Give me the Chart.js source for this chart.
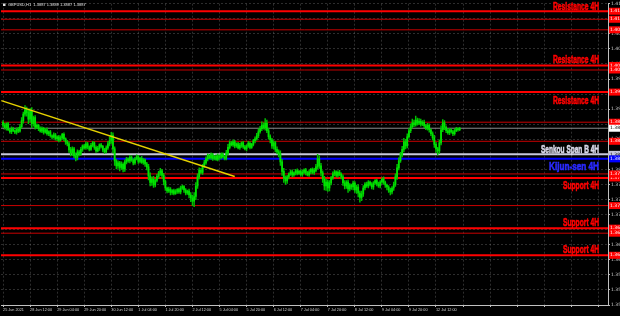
<!DOCTYPE html>
<html>
<head>
<meta charset="utf-8">
<script src="https://cdn.jsdelivr.net/npm/chart.js@4.4.1/dist/chart.umd.min.js"></script>
<style>
html, body { margin: 0; padding: 0; background: #000; }
#wrap { width: 620px; height: 316px; position: relative; }
</style>
</head>
<body>
<div id="wrap"><canvas id="chart"></canvas></div>
<script>
/* GBPUSD H1 -- candles with 4H levels */

const firstOpen = 1.3899;
const closes = [
	1.3893, 1.3888, 1.3896,
	1.3884, 1.3880, 1.3886, 1.3882, 1.3879, 1.3885, 1.3881, 1.3890,
	1.3902, 1.3915, 1.3924, 1.3918,
	1.3905, 1.3922, 1.3896, 1.3908, 1.3889, 1.3893,
	1.3886, 1.3881, 1.3887, 1.3879, 1.3884, 1.3876, 1.3880, 1.3872,
	1.3869, 1.3874, 1.3866, 1.3870, 1.3863, 1.3868, 1.3875, 1.3866, 1.3860, 1.3856,
	1.3844, 1.3838, 1.3846, 1.3832, 1.3829, 1.3840, 1.3836,
	1.3845, 1.3852, 1.3848, 1.3856, 1.3850, 1.3845, 1.3853, 1.3858, 1.3849, 1.3842,
	1.3847, 1.3854, 1.3851, 1.3844, 1.3840, 1.3848, 1.3856, 1.3862,
	1.3873,
	1.3846, 1.3822, 1.3812,
	1.3818, 1.3809, 1.3815, 1.3806, 1.3820, 1.3826,
	1.3822, 1.3829, 1.3824, 1.3818, 1.3826, 1.3830, 1.3821, 1.3827, 1.3819, 1.3824, 1.3816, 1.3810,
	1.3792, 1.3779, 1.3786, 1.3774, 1.3783, 1.3791,
	1.3798, 1.3802, 1.3793, 1.3781,
	1.3768, 1.3762, 1.3766, 1.3759, 1.3763, 1.3757, 1.3761, 1.3765, 1.3760, 1.3768,
	1.3771, 1.3764, 1.3758, 1.3762, 1.3754, 1.3748, 1.3742,
	1.3751,
	1.3772, 1.3790, 1.3803, 1.3799, 1.3812, 1.3818, 1.3826, 1.3833,
	1.3828, 1.3834, 1.3827, 1.3831, 1.3825, 1.3832, 1.3829, 1.3835, 1.3830, 1.3827, 1.3838,
	1.3849, 1.3858, 1.3854, 1.3860,
	1.3852, 1.3856, 1.3848, 1.3853, 1.3858, 1.3850, 1.3846, 1.3852, 1.3857, 1.3849,
	1.3855, 1.3862, 1.3866, 1.3872,
	1.3880, 1.3886, 1.3893, 1.3888, 1.3897, 1.3882,
	1.3870, 1.3864, 1.3852, 1.3858, 1.3845, 1.3840, 1.3836, 1.3820,
	1.3801, 1.3788, 1.3782, 1.3790,
	1.3796, 1.3800, 1.3794, 1.3798, 1.3802, 1.3797, 1.3801, 1.3795, 1.3799, 1.3804,
	1.3798, 1.3794, 1.3800, 1.3805, 1.3799, 1.3803, 1.3810, 1.3826, 1.3812, 1.3798,
	1.3786, 1.3772, 1.3780, 1.3768, 1.3778, 1.3788,
	1.3796, 1.3800, 1.3793, 1.3799, 1.3795, 1.3790,
	1.3778, 1.3772, 1.3780, 1.3766, 1.3774, 1.3770, 1.3778, 1.3764, 1.3770, 1.3758,
	1.3749, 1.3756, 1.3768,
	1.3776, 1.3772, 1.3780, 1.3775, 1.3770, 1.3778, 1.3783, 1.3776, 1.3772, 1.3780,
	1.3786, 1.3779, 1.3774, 1.3770,
	1.3764, 1.3760, 1.3768, 1.3775,
	1.3790, 1.3808, 1.3822, 1.3834,
	1.3845, 1.3860, 1.3852, 1.3870, 1.3882, 1.3890,
	1.3898, 1.3894, 1.3903, 1.3897, 1.3901, 1.3895, 1.3899,
	1.3892, 1.3887, 1.3893, 1.3884, 1.3876, 1.3868,
	1.3855, 1.3846, 1.3842, 1.3858,
	1.3884, 1.3898,
	1.3889, 1.3882, 1.3878, 1.3884, 1.3880, 1.3876, 1.3882, 1.3886, 1.3884, 1.3887,
];
// wick lengths in pips above / below the body
const upWick = [
	3,4,2,3,2,4,3,2,3,4,5,6,4,8,5,7,4,6,3,4,
	3,2,4,3,2,3,4,2,3,2,4,3,2,3,4,2,3,2,3,4,
	5,4,3,6,4,3,4,2,3,4,3,2,4,3,2,3,4,2,3,2,
	3,4,5,8,6,5,4,3,4,3,5,3,4,3,2,4,3,2,3,4,
	3,2,4,3,2,3,5,6,4,5,3,4,3,5,3,4,3,2,4,3,
	2,3,4,2,3,4,3,2,3,2,4,5,6,8,7,6,5,4,3,5,
	4,3,2,4,3,2,3,4,2,3,3,2,5,6,4,3,4,3,2,3,
	4,2,3,3,2,4,3,2,3,4,5,6,5,7,5,9,6,5,4,3,
	4,3,5,4,6,5,6,4,3,2,3,4,2,3,4,2,3,4,2,3,
	3,4,2,3,4,5,9,6,5,4,5,6,4,5,3,4,3,2,3,4,
	3,4,5,3,4,3,2,4,3,4,5,4,6,5,3,4,3,2,4,3,
	2,3,4,3,2,4,3,2,3,4,3,5,6,7,6,5,6,7,5,6,
	5,6,7,5,8,4,5,4,3,4,3,4,3,2,4,5,4,3,6,8,
	6,4,3,4,3,2,3,4,3,2,2,
];
const downWick = [
	4,3,5,2,3,4,2,3,4,3,2,3,5,4,7,9,6,8,5,4,
	3,4,2,3,4,2,3,4,3,4,2,3,4,3,2,3,4,5,4,5,
	6,5,4,7,5,4,3,4,2,3,4,3,2,3,4,3,2,4,3,4,
	3,2,3,4,5,8,9,6,5,7,4,6,5,4,3,4,3,4,3,2,
	4,3,2,4,5,6,8,7,6,5,4,3,4,5,6,7,5,4,3,5,
	4,3,2,4,3,4,3,5,4,3,6,7,9,11,6,5,4,3,4,3,
	3,4,2,3,4,3,2,3,4,3,2,3,3,4,3,2,3,4,3,2,
	3,4,3,2,4,3,3,2,3,4,3,4,3,4,3,5,4,5,6,5,
	6,5,4,6,7,8,9,7,5,4,3,4,3,4,3,2,3,4,3,4,
	2,3,4,3,4,3,4,5,6,7,8,9,7,6,4,3,4,3,4,3,
	4,5,6,5,7,4,5,6,5,7,8,9,6,5,4,3,4,3,4,5,
	3,4,3,4,3,4,5,6,5,6,4,5,4,5,4,3,4,5,6,4,
	3,4,3,4,3,4,3,4,3,4,3,4,5,4,5,6,7,8,5,4,
	4,5,4,3,4,3,4,3,2,3,2,
];
// one label every 16 bars
const dateLabels = [
	"25 Jun 2021", "28 Jun 12:00", "29 Jun 04:00", "29 Jun 20:00", "30 Jun 12:00",
	"1 Jul 04:00", "1 Jul 20:00", "2 Jul 12:00", "5 Jul 04:00", "5 Jul 20:00",
	"6 Jul 12:00", "7 Jul 04:00", "7 Jul 20:00", "8 Jul 12:00", "9 Jul 04:00",
	"9 Jul 20:00", "12 Jul 12:00",
];
const resistanceLevels = [1.4120, 1.4012, 1.3959];
const supportLevels = [1.3788, 1.3688, 1.3634];
const minorLevels = [1.4104, 1.4083, 1.4003, 1.3899, 1.3861, 1.3796, 1.3733, 1.3678];
const senkouSpanB = 1.3835;
const kijunSen = 1.3826;
const bidPrice = 1.3887;
const trendX = [-1, 137];
const trendY = [1.3942, 1.3791];
const headerText = "GBPUSD,H1  1.3887 1.3889 1.3887 1.3887";

const X_MIN = -1.2, X_MAX = 357.7;
const Y_MIN = 1.3535, Y_MAX = 1.4135, Y_STEP = 0.003;

const COLORS = {
	red: "#ff0000",
	redThin: "#c80000",
	candle: "#00e400",
	wick: "#00c000",
	senkou: "#c8c8dc",
	kijun: "#0000ff",
	bid: "#8c8c8c",
	trend: "#e6d200",
	grid: "rgba(150,150,150,0.30)",
	axis: "#c0c0c0",
	text: "#cfcfcf",
};

const candles = closes.map((c, i) => {
	const o = i === 0 ? firstOpen : closes[i - 1];
	return {
		x: i, o: o, c: c,
		h: Math.max(o, c) + upWick[i] / 10000,
		l: Math.min(o, c) - downWick[i] / 10000,
	};
});

function hLine(price, color, width, order) {
	return {
		type: "line",
		data: [{ x: X_MIN, y: price }, { x: X_MAX, y: price }],
		borderColor: color,
		borderWidth: width,
		pointRadius: 0,
		order: order,
	};
}

const datasets = [];
minorLevels.forEach(p => datasets.push(hLine(p, COLORS.redThin, 1, 6)));
datasets.push(hLine(bidPrice, COLORS.bid, 1, 6));
resistanceLevels.forEach(p => datasets.push(hLine(p, COLORS.red, 2, 5)));
supportLevels.forEach(p => datasets.push(hLine(p, COLORS.red, 2, 5)));
datasets.push(hLine(senkouSpanB, COLORS.senkou, 2, 5));
datasets.push(hLine(kijunSen, COLORS.kijun, 2, 5));

datasets.push({
	type: "bar",
	data: candles.map(k => ({ x: k.x, y: [k.l, k.h] })),
	backgroundColor: COLORS.wick,
	barThickness: 0.8,
	grouped: false,
	order: 2,
});
datasets.push({
	type: "bar",
	data: candles.map(k => ({ x: k.x, y: [k.o, k.c] })),
	backgroundColor: COLORS.candle,
	barThickness: 1.1,
	grouped: false,
	order: 1,
});
datasets.push({
	type: "line",
	data: trendX.map((x, i) => ({ x: x, y: trendY[i] })),
	borderColor: COLORS.trend,
	borderWidth: 1.5,
	pointRadius: 0,
	order: 0,
});

// level names, price tags on the axis and the header
const overlayPlugin = {
	id: "overlay",
	afterDraw(chart) {
		const ctx = chart.ctx;
		const y = chart.scales.y;
		const area = chart.chartArea;

		ctx.save();
		ctx.fillStyle = "#e0e0e0";
		ctx.fillRect(3, 3.5, 2.5, 2.5);
		ctx.font = "4px 'Liberation Sans'";
		ctx.textBaseline = "middle";
		ctx.fillText(headerText, 8, 5);

		const tags = [
			{ text: "Resistance 4H", price: resistanceLevels[0], dy: -1.5, w: 46, color: COLORS.red },
			{ text: "Resistance 4H", price: resistanceLevels[1], dy: -2, w: 46, color: COLORS.red },
			{ text: "Resistance 4H", price: resistanceLevels[2], dy: 12, w: 46, color: COLORS.red },
			{ text: "Senkou Span B 4H", price: senkouSpanB, dy: -1.5, w: 58, color: "#d8d8e8" },
			{ text: "Kijun-sen 4H", price: kijunSen, dy: 11, w: 50, color: "#2a2aff" },
			{ text: "Support 4H", price: supportLevels[0], dy: 11, w: 36, color: COLORS.red },
			{ text: "Support 4H", price: supportLevels[1], dy: -2, w: 36, color: COLORS.red },
			{ text: "Support 4H", price: supportLevels[2], dy: -2, w: 36, color: COLORS.red },
		];
		ctx.font = "bold 11px 'Liberation Sans', 'DejaVu Sans'";
		ctx.textBaseline = "alphabetic";
		ctx.textAlign = "right";
		tags.forEach(t => {
			const py = y.getPixelForValue(t.price) + t.dy;
			const sx = t.w / ctx.measureText(t.text).width;
			ctx.save();
			ctx.translate(area.right - 9, py);
			ctx.scale(sx, 1.05);
			ctx.fillStyle = t.color;
			ctx.strokeStyle = t.color;
			ctx.lineWidth = 0.6;
			ctx.fillText(t.text, 0, 0);
			ctx.strokeText(t.text, 0, 0);
			ctx.restore();
		});

		const boxes = [];
		resistanceLevels.concat(supportLevels, minorLevels).forEach(p => boxes.push({ p: p, bg: COLORS.red, fg: "#ffffff" }));
		boxes.push({ p: senkouSpanB, bg: COLORS.senkou, fg: "#000000" });
		boxes.push({ p: kijunSen, bg: COLORS.kijun, fg: "#ffffff" });
		boxes.push({ p: bidPrice, bg: "#ffffff", fg: "#000000" });
		ctx.font = "4.5px 'DejaVu Sans'";
		ctx.textAlign = "left";
		ctx.textBaseline = "middle";
		boxes.forEach(b => {
			const py = y.getPixelForValue(b.p);
			ctx.fillStyle = b.bg;
			ctx.fillRect(area.right + 1, py - 3.5, 12, 7);
			ctx.fillStyle = b.fg;
			ctx.fillText(b.p.toFixed(4), area.right + 2, py);
		});
		ctx.restore();
	},
};

new Chart(document.getElementById("chart"), {
	type: "bar",
	data: { datasets: datasets },
	options: {
		responsive: true,
		maintainAspectRatio: false,
		animation: false,
		events: [],
		layout: { padding: { top: 3, left: 1, right: 0, bottom: 0 } },
		plugins: {
			legend: { display: false },
			tooltip: { enabled: false },
		},
		scales: {
			x: {
				type: "linear",
				min: X_MIN,
				max: X_MAX,
				offset: false,
				grid: { color: COLORS.grid, offset: false, tickLength: 2, tickColor: COLORS.axis },
				border: { color: COLORS.axis, dash: [2, 2] },
				ticks: {
					stepSize: 16,
					includeBounds: false,
					autoSkip: false,
					maxRotation: 0,
					align: "start",
					padding: 1,
					color: COLORS.text,
					font: { size: 3.8, family: "Liberation Sans" },
					callback: v => (v >= 0 && v % 16 === 0 && v / 16 < dateLabels.length) ? dateLabels[v / 16] : "",
				},
				afterFit: s => { s.height = 11; },
			},
			y: {
				type: "linear",
				position: "right",
				min: Y_MIN,
				max: Y_MAX,
				grid: { color: COLORS.grid, tickLength: 2, tickColor: COLORS.axis },
				border: { color: COLORS.axis, dash: [2, 2] },
				ticks: {
					stepSize: Y_STEP,
					autoSkip: false,
					padding: 1,
					color: COLORS.text,
					font: { size: 4.5, family: "DejaVu Sans" },
					callback: v => v.toFixed(4),
				},
				afterFit: s => { s.width = 12; },
			},
		},
	},
	plugins: [overlayPlugin],
});
</script>
</body>
</html>
